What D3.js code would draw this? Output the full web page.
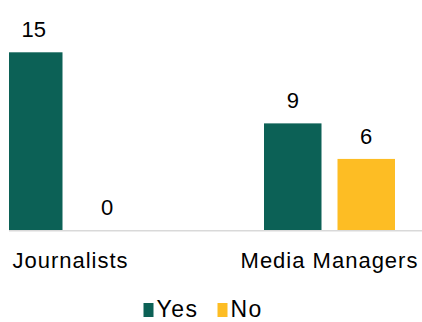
<!DOCTYPE html>
<html>
<head>
<meta charset="utf-8">
<script src="https://cdn.jsdelivr.net/npm/d3@7"></script>
<style>
  html, body { margin: 0; padding: 0; background: #fff; }
  svg { display: block; }
  text { font-family: "Liberation Sans", Arial, sans-serif; fill: #000; }
</style>
</head>
<body>
<svg id="chart" width="422" height="322"></svg>
<script>
const categories = ["Journalists", "Media Managers"];
const series = ["Yes", "No"];
const yesValues = [15, 9];
const noValues = [0, 6];
const colors = { Yes: "#0c6156", No: "#fdbd24" };

const data = categories.map((c, i) => ({
  category: c,
  values: [
    { key: "Yes", value: yesValues[i] },
    { key: "No", value: noValues[i] }
  ]
}));

const svg = d3.select("#chart");
const W = 422, H = 322;
const plotLeft = 9, plotRight = 422, baseY = 230;

const x0 = d3.scaleBand().domain(categories).range([-59, 459]).padding(0);
const x1 = d3.scaleBand().domain(series).range([0, x0.bandwidth()])
  .paddingInner(0.2177).paddingOuter(0.871);
const y = d3.scaleLinear().domain([0, 15]).range([baseY, 52.3]);

svg.append("defs").append("clipPath").attr("id", "plotclip")
  .append("rect").attr("x", plotLeft).attr("y", 0)
  .attr("width", plotRight - plotLeft).attr("height", H);

const plot = svg.append("g").attr("clip-path", "url(#plotclip)");

const groups = plot.selectAll("g.grp").data(data).join("g")
  .attr("class", "grp")
  .attr("transform", d => `translate(${x0(d.category)},0)`);

groups.selectAll("rect").data(d => d.values).join("rect")
  .attr("x", d => x1(d.key))
  .attr("y", d => y(d.value))
  .attr("width", x1.bandwidth())
  .attr("height", d => y(0) - y(d.value))
  .attr("fill", d => colors[d.key]);

groups.selectAll("text.val").data(d => d.values).join("text")
  .attr("class", "val")
  .attr("x", d => x1(d.key) + x1.bandwidth() / 2)
  .attr("y", d => y(d.value) - 15)
  .attr("text-anchor", "middle")
  .style("font-size", "22px")
  .text(d => d.value);

// axis baseline
svg.append("line")
  .attr("x1", plotLeft).attr("x2", plotRight)
  .attr("y1", baseY + 0.75).attr("y2", baseY + 0.75)
  .attr("stroke", "#d9d9d9").attr("stroke-width", 1.5);

// category labels
svg.selectAll("text.cat").data(categories).join("text")
  .attr("class", "cat")
  .attr("x", d => x0(d) + x0.bandwidth() / 2)
  .attr("y", 267.5)
  .attr("text-anchor", "middle")
  .style("font-size", "22px")
  .style("letter-spacing", "1px")
  .text(d => d);

// legend
const legend = svg.append("g");
const legendItems = [
  { key: "Yes", x: 143.5 },
  { key: "No", x: 217.5 }
];
legendItems.forEach(it => {
  legend.append("rect")
    .attr("x", it.x).attr("y", 303)
    .attr("width", 10).attr("height", 14)
    .attr("fill", colors[it.key]);
  legend.append("text")
    .attr("x", it.x + 13).attr("y", 317)
    .style("font-size", "23px")
    .style("letter-spacing", "1.5px")
    .text(it.key);
});
</script>
</body>
</html>
